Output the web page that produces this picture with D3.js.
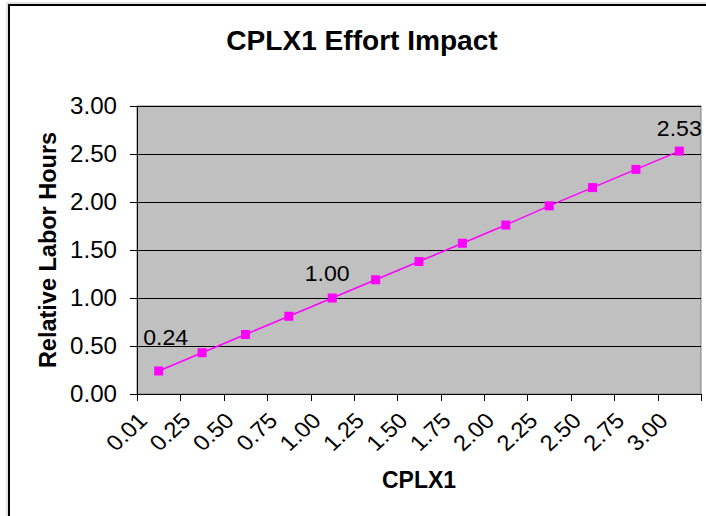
<!DOCTYPE html>
<html>
<head>
<meta charset="utf-8">
<script src="https://cdn.jsdelivr.net/npm/d3@7"></script>
<style>
  body { margin: 0; background: #fff; }
  text { font-family: "Liberation Sans", Arial, sans-serif; fill: #000; }
</style>
</head>
<body>
<div id="chart"></div>
<script>
// CPLX1 categories and relative labor hours
var categories = ["0.01", "0.25", "0.50", "0.75", "1.00", "1.25", "1.50",
                  "1.75", "2.00", "2.25", "2.50", "2.75", "3.00"];
var laborHours = [0.24, 0.43, 0.62, 0.81, 1.00, 1.19, 1.38,
                  1.57, 1.76, 1.96, 2.15, 2.34, 2.53];
var yTicks = [0, 0.5, 1, 1.5, 2, 2.5, 3];
var labelled = ["0.01", "1.00", "3.00"];

var width = 706, height = 516;
var plot = { left: 137, right: 701, top: 106, bottom: 394 };

function place(x, y, sx, extra) {
    return "translate(" + x + "," + y + ") scale(" + sx + ",1)" + (extra ? " " + extra : "");
}

var svg = d3.select("#chart").append("svg")
    .attr("width", width)
    .attr("height", height);

// chart border (only top/left edges visible in window)
svg.append("rect")
    .attr("x", 7).attr("y", 3)
    .attr("width", 800).attr("height", 600)
    .attr("fill", "none")
    .attr("stroke", "#c8c8c8")
    .attr("stroke-width", 1);
svg.append("rect")
    .attr("x", 9).attr("y", 5)
    .attr("width", 800).attr("height", 600)
    .attr("fill", "none")
    .attr("stroke", "#000")
    .attr("stroke-width", 2);

var x = d3.scaleBand()
    .domain(categories)
    .range([plot.left, plot.right])
    .padding(0);

var y = d3.scaleLinear()
    .domain([0, 3])
    .range([plot.bottom, plot.top]);

// plot area
svg.append("rect")
    .attr("x", plot.left).attr("y", plot.top)
    .attr("width", plot.right - plot.left)
    .attr("height", plot.bottom - plot.top)
    .attr("fill", "#c0c0c0")
    .attr("stroke", "#808080")
    .attr("stroke-width", 1);

// gridlines
svg.append("g")
    .selectAll("line")
    .data(yTicks.slice(1))
    .enter().append("line")
    .attr("x1", plot.left).attr("x2", plot.right)
    .attr("y1", d => Math.round(y(d)) + 0.5)
    .attr("y2", d => Math.round(y(d)) + 0.5)
    .attr("stroke", "#000")
    .attr("stroke-width", 1);

// y axis
var yAxis = svg.append("g")
    .attr("transform", "translate(" + plot.left + ",0)")
    .call(d3.axisLeft(y).tickValues(yTicks).tickFormat("")
        .tickSize(7).tickSizeOuter(0));
yAxis.select(".domain").attr("stroke", "#000");
yAxis.selectAll(".tick line").attr("stroke", "#000");

svg.selectAll(".ylabel")
    .data(yTicks)
    .enter().append("text")
    .attr("class", "ylabel")
    .attr("text-anchor", "end")
    .attr("dy", "0.36em")
    .style("font-size", "23px")
    .attr("transform", d => place(plot.left - 20, y(d), 1.05))
    .text(d3.format(".2f"));

// x axis: ticks at category boundaries
var bounds = categories.map(c => x(c)).concat([x.range()[1]]);
var xAxis = svg.append("g")
    .attr("transform", "translate(0," + plot.bottom + ")");
xAxis.append("line")
    .attr("x1", plot.left).attr("x2", plot.right)
    .attr("y1", 0.5).attr("y2", 0.5)
    .attr("stroke", "#000");
xAxis.selectAll(".xtick")
    .data(bounds)
    .enter().append("line")
    .attr("class", "xtick")
    .attr("x1", d => Math.round(d) + 0.5).attr("x2", d => Math.round(d) + 0.5)
    .attr("y1", 0).attr("y2", 7)
    .attr("stroke", "#000");
xAxis.selectAll(".xlabel")
    .data(categories)
    .enter().append("text")
    .attr("class", "xlabel")
    .attr("text-anchor", "end")
    .style("font-size", "22px")
    .attr("transform", d => place(x(d) + x.bandwidth() / 2 - 10, 28, 1.08, "rotate(-45)"))
    .text(d => d);

// series line
var line = d3.line()
    .x((d, i) => x(categories[i]) + x.bandwidth() / 2)
    .y(d => y(d));

svg.append("path")
    .datum(laborHours)
    .attr("d", line)
    .attr("fill", "none")
    .attr("stroke", "#ff00ff")
    .attr("stroke-width", 1.5);

svg.selectAll(".marker")
    .data(laborHours)
    .enter().append("rect")
    .attr("class", "marker")
    .attr("x", (d, i) => x(categories[i]) + x.bandwidth() / 2 - 4.5)
    .attr("y", d => y(d) - 4.5)
    .attr("width", 9).attr("height", 9)
    .attr("fill", "#ff00ff");

// data labels on first, middle and last points
var labelOffset = { "0.01": [7, -26], "1.00": [-5, -17], "3.00": [0, -15] };
svg.selectAll(".dlabel")
    .data(laborHours.map((v, i) => ({ cat: categories[i], v: v }))
        .filter(d => labelled.indexOf(d.cat) >= 0))
    .enter().append("text")
    .attr("class", "dlabel")
    .attr("text-anchor", "middle")
    .style("font-size", "22px")
    .attr("transform", d => place(x(d.cat) + x.bandwidth() / 2 + labelOffset[d.cat][0],
                                  y(d.v) + labelOffset[d.cat][1], 1.05))
    .text(d => d3.format(".2f")(d.v));

// titles
svg.append("text")
    .attr("transform", place(362, 50, 1.04))
    .attr("text-anchor", "middle")
    .style("font-size", "27px")
    .style("font-weight", "bold")
    .text("CPLX1 Effort Impact");

svg.append("text")
    .attr("transform", place((plot.left + plot.right) / 2, 488, 1))
    .attr("text-anchor", "middle")
    .style("font-size", "23px")
    .style("font-weight", "bold")
    .text("CPLX1");

svg.append("text")
    .attr("transform", place(56, (plot.top + plot.bottom) / 2, 1.05, "rotate(-90)"))
    .attr("text-anchor", "middle")
    .style("font-size", "23.5px")
    .style("font-weight", "bold")
    .text("Relative Labor Hours");
</script>
</body>
</html>
